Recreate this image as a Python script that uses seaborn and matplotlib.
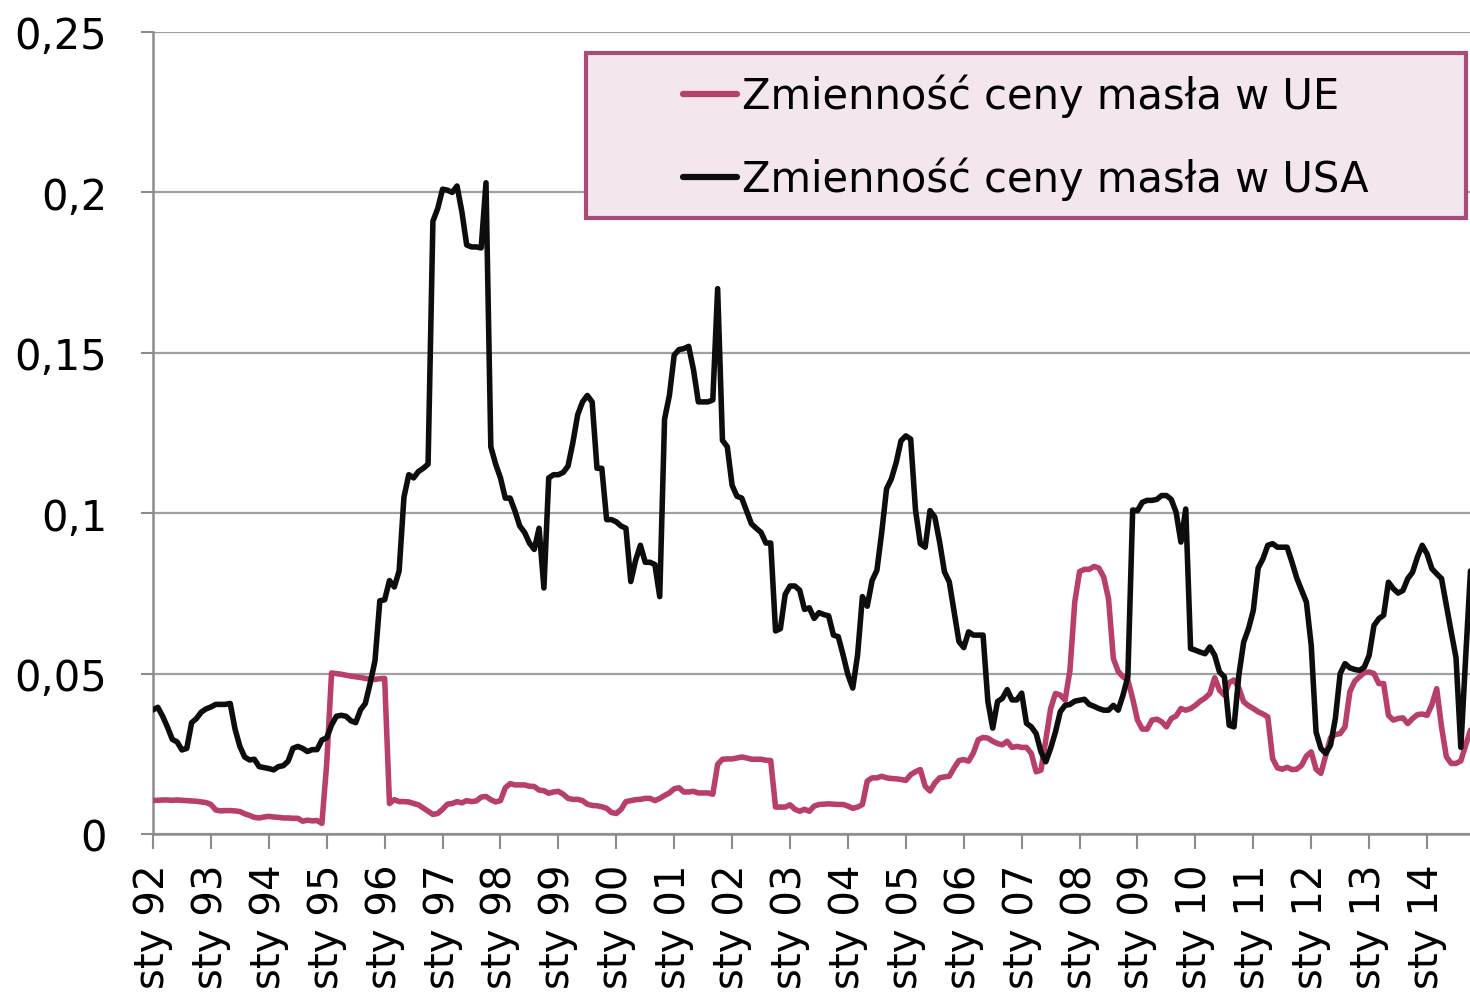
import numpy as np
import pandas as pd
import matplotlib
matplotlib.use("Agg")
import matplotlib.pyplot as plt
from matplotlib.patches import Rectangle
import seaborn as sns

# ---------------- data (monthly, from Jan 1992) ----------------
series_names = ["Zmienność ceny masła w UE", "Zmienność ceny masła w USA"]

ue = [
    0.0105, 0.0105, 0.0106, 0.0106, 0.0105, 0.0106, 0.0105, 0.0104, 0.0103, 0.0102, 0.0100, 0.0098,
    0.0092, 0.0075, 0.0072, 0.0073, 0.0073, 0.0072, 0.0070, 0.0063, 0.0058, 0.0052, 0.0050, 0.0053,
    0.0055, 0.0053, 0.0052, 0.0050, 0.0050, 0.0049, 0.0049, 0.0040, 0.0043, 0.0041, 0.0042, 0.0033,
    0.0220, 0.0502, 0.0500, 0.0498, 0.0495, 0.0492, 0.0490, 0.0488, 0.0485, 0.0483, 0.0482, 0.0484,
    0.0485, 0.0095, 0.0107, 0.0101, 0.0101, 0.0100, 0.0095, 0.0091, 0.0081, 0.0071, 0.0061, 0.0064,
    0.0077, 0.0093, 0.0095, 0.0101, 0.0097, 0.0104, 0.0101, 0.0103, 0.0115, 0.0117, 0.0107, 0.0100,
    0.0104, 0.0144, 0.0157, 0.0153, 0.0153, 0.0153, 0.0149, 0.0148, 0.0137, 0.0135, 0.0127, 0.0131,
    0.0133, 0.0124, 0.0111, 0.0108, 0.0108, 0.0104, 0.0093, 0.0089, 0.0088, 0.0085, 0.0080, 0.0067,
    0.0064, 0.0077, 0.0101, 0.0104, 0.0107, 0.0108, 0.0111, 0.0111, 0.0104, 0.0111, 0.0120, 0.0128,
    0.0141, 0.0144, 0.0131, 0.0131, 0.0133, 0.0128, 0.0128, 0.0128, 0.0124, 0.0217, 0.0233, 0.0234,
    0.0234, 0.0237, 0.0240, 0.0237, 0.0233, 0.0233, 0.0233, 0.0230, 0.0229, 0.0084, 0.0084, 0.0084,
    0.0091, 0.0077, 0.0071, 0.0077, 0.0071, 0.0087, 0.0092, 0.0093, 0.0094, 0.0093, 0.0092, 0.0092,
    0.0087, 0.0080, 0.0084, 0.0092, 0.0165, 0.0175, 0.0175, 0.0180, 0.0175, 0.0173, 0.0172, 0.0170,
    0.0167, 0.0185, 0.0194, 0.0201, 0.0149, 0.0134, 0.0159, 0.0175, 0.0178, 0.0180, 0.0206, 0.0229,
    0.0232, 0.0227, 0.0253, 0.0294, 0.0301, 0.0299, 0.0289, 0.0282, 0.0278, 0.0289, 0.0270, 0.0273,
    0.0270, 0.0270, 0.0251, 0.0194, 0.0199, 0.0293, 0.0391, 0.0438, 0.0433, 0.0417, 0.0510, 0.0723,
    0.0818, 0.0825, 0.0825, 0.0834, 0.0829, 0.0801, 0.0733, 0.0547, 0.0507, 0.0490, 0.0480, 0.0422,
    0.0355, 0.0327, 0.0327, 0.0355, 0.0358, 0.0350, 0.0334, 0.0360, 0.0368, 0.0391, 0.0386, 0.0391,
    0.0401, 0.0414, 0.0424, 0.0438, 0.0487, 0.0448, 0.0433, 0.0472, 0.0480, 0.0455, 0.0412, 0.0400,
    0.0391, 0.0381, 0.0374, 0.0365, 0.0235, 0.0206, 0.0202, 0.0208, 0.0201, 0.0202, 0.0214, 0.0243,
    0.0256, 0.0202, 0.0189, 0.0245, 0.0300, 0.0310, 0.0313, 0.0334, 0.0443, 0.0476, 0.0490, 0.0503,
    0.0505, 0.0500, 0.0469, 0.0469, 0.0370, 0.0355, 0.0360, 0.0362, 0.0344, 0.0360, 0.0372, 0.0374,
    0.0370, 0.0403, 0.0453, 0.0334, 0.0241, 0.0220, 0.0220, 0.0228, 0.0277, 0.0324,
]

usa = [
    0.0387, 0.0395, 0.0367, 0.0333, 0.0295, 0.0287, 0.0262, 0.0267, 0.0347, 0.0360, 0.0380, 0.0390,
    0.0396, 0.0404, 0.0404, 0.0404, 0.0407, 0.0327, 0.0273, 0.0240, 0.0231, 0.0233, 0.0210, 0.0207,
    0.0204, 0.0200, 0.0210, 0.0213, 0.0227, 0.0267, 0.0273, 0.0267, 0.0257, 0.0263, 0.0263, 0.0293,
    0.0300, 0.0340, 0.0367, 0.0370, 0.0367, 0.0353, 0.0347, 0.0387, 0.0407, 0.0470, 0.0540, 0.0727,
    0.0730, 0.0790, 0.0770, 0.0820, 0.1050, 0.1120, 0.1110, 0.1130, 0.1140, 0.1153, 0.1910, 0.1950,
    0.2010, 0.2007, 0.2000, 0.2020, 0.1940, 0.1836, 0.1830, 0.1830, 0.1827, 0.2030, 0.1207, 0.1153,
    0.1110, 0.1047, 0.1047, 0.1007, 0.0960, 0.0940, 0.0907, 0.0887, 0.0953, 0.0767, 0.1110, 0.1120,
    0.1120, 0.1127, 0.1147, 0.1220, 0.1307, 0.1347, 0.1367, 0.1347, 0.1140, 0.1140, 0.0980, 0.0980,
    0.0973, 0.0960, 0.0953, 0.0787, 0.0853, 0.0900, 0.0847, 0.0847, 0.0840, 0.0740, 0.1293, 0.1367,
    0.1493, 0.1510, 0.1513, 0.1520, 0.1447, 0.1347, 0.1347, 0.1347, 0.1353, 0.1700, 0.1227, 0.1207,
    0.1087, 0.1053, 0.1047, 0.1007, 0.0967, 0.0953, 0.0940, 0.0907, 0.0907, 0.0633, 0.0640, 0.0747,
    0.0773, 0.0773, 0.0760, 0.0700, 0.0705, 0.0672, 0.0690, 0.0684, 0.0680, 0.0620, 0.0615, 0.0558,
    0.0496, 0.0455, 0.0558, 0.0740, 0.0710, 0.0790, 0.0822, 0.0940, 0.1076, 0.1107, 0.1158, 0.1226,
    0.1241, 0.1231, 0.1010, 0.0905, 0.0894, 0.1008, 0.0988, 0.0910, 0.0817, 0.0786, 0.0693, 0.0600,
    0.0581, 0.0630, 0.0620, 0.0620, 0.0620, 0.0413, 0.0330, 0.0413, 0.0423, 0.0450, 0.0418, 0.0418,
    0.0439, 0.0345, 0.0334, 0.0313, 0.0256, 0.0225, 0.0267, 0.0318, 0.0381, 0.0401, 0.0404, 0.0414,
    0.0417, 0.0420, 0.0404, 0.0398, 0.0391, 0.0386, 0.0386, 0.0401, 0.0386, 0.0433, 0.0490, 0.1010,
    0.1008, 0.1034, 0.1040, 0.1040, 0.1043, 0.1055, 0.1055, 0.1043, 0.1003, 0.0910, 0.1013, 0.0578,
    0.0573, 0.0567, 0.0562, 0.0583, 0.0557, 0.0505, 0.0490, 0.0339, 0.0334, 0.0495, 0.0598, 0.0640,
    0.0697, 0.0829, 0.0858, 0.0900, 0.0905, 0.0894, 0.0894, 0.0894, 0.0848, 0.0798, 0.0760, 0.0723,
    0.0588, 0.0318, 0.0267, 0.0251, 0.0277, 0.0360, 0.0500, 0.0531, 0.0518, 0.0513, 0.0510, 0.0520,
    0.0557, 0.0650, 0.0671, 0.0682, 0.0785, 0.0765, 0.0751, 0.0759, 0.0796, 0.0816, 0.0863, 0.0900,
    0.0873, 0.0827, 0.0811, 0.0796, 0.0713, 0.0630, 0.0550, 0.0270, 0.0550, 0.0820,
]

year_labels = ["sty 92", "sty 93", "sty 94", "sty 95", "sty 96", "sty 97", "sty 98", "sty 99",
               "sty 00", "sty 01", "sty 02", "sty 03", "sty 04", "sty 05", "sty 06", "sty 07",
               "sty 08", "sty 09", "sty 10", "sty 11", "sty 12", "sty 13", "sty 14"]
y_ticks = [0, 0.05, 0.1, 0.15, 0.2, 0.25]
y_labels = ["0", "0,05", "0,1", "0,15", "0,2", "0,25"]

# ---------------- build table ----------------
n = len(ue)
month_idx = np.arange(n)
df = pd.DataFrame({
    "miesiac": np.concatenate([month_idx, month_idx]),
    "wartosc": np.concatenate([ue, usa]),
    "seria": [series_names[0]] * n + [series_names[1]] * len(usa),
})

sns.set_style("white")
plt.rcParams["font.family"] = ["DejaVu Sans"]
plt.rcParams["text.color"] = "black"

W, H = 1470, 995
fig = plt.figure(figsize=(W / 100, H / 100), dpi=100)
ax = fig.add_axes([153 / W, 1 - 835 / H, 1 - 153 / W, (835 - 33) / H])

palette = {series_names[0]: "#B83F6C", series_names[1]: "#0D0D0D"}
sns.lineplot(data=df, x="miesiac", y="wartosc", hue="seria", hue_order=series_names,
             palette=palette, linewidth=4.0, ax=ax, legend=True, zorder=3)
for ln in ax.lines:
    ln.set_solid_joinstyle("round")
    ln.set_solid_capstyle("round")

handles, labels = ax.get_legend_handles_labels()
ax.get_legend().remove()

grid_c = "#A0A0A0"
ax.set_ylim(0, 0.25)
ax.set_xlim(0, 272.9)
ax.set_yticks(y_ticks)
ax.set_yticklabels(y_labels)
ax.set_xticks(np.arange(len(year_labels)) * 12)
ax.set_xticklabels(year_labels, rotation=90)
ax.yaxis.grid(True, color=grid_c, linewidth=1.6)
ax.xaxis.grid(False)
ax.set_axisbelow(True)
ax.set_xlabel("")
ax.set_ylabel("")
for s in ["top", "right"]:
    ax.spines[s].set_visible(False)
for s in ["left", "bottom"]:
    ax.spines[s].set_color("#8C8C8C")
    ax.spines[s].set_linewidth(1.8)
ax.tick_params(axis="y", direction="out", length=9, width=1.5, color="#8C8C8C",
               labelsize=30, pad=24, left=True, labelcolor="black")
ax.tick_params(axis="x", direction="out", length=11, width=1.5, color="#8C8C8C",
               labelsize=29, pad=10, bottom=True, labelcolor="black")

# legend box
box = Rectangle((586 / W, 1 - 219 / H), (1466 - 586) / W, (219 - 54) / H,
                transform=fig.transFigure, facecolor="#F4E6EE", edgecolor="#A84C7C",
                linewidth=3, zorder=4)
fig.patches.append(box)
leg = fig.legend(handles, labels, loc="center left",
                 bbox_to_anchor=(683 / W, 1 - 138 / H), frameon=False, fontsize=30,
                 handlelength=1.3, handletextpad=0.12, labelspacing=0.95,
                 borderpad=0, borderaxespad=0, labelcolor="black")
leg.set_zorder(5)
for lh in leg.get_lines():
    lh.set_linewidth(4.5)
    lh.set_solid_capstyle("round")

fig.savefig("out.png", dpi=100)
